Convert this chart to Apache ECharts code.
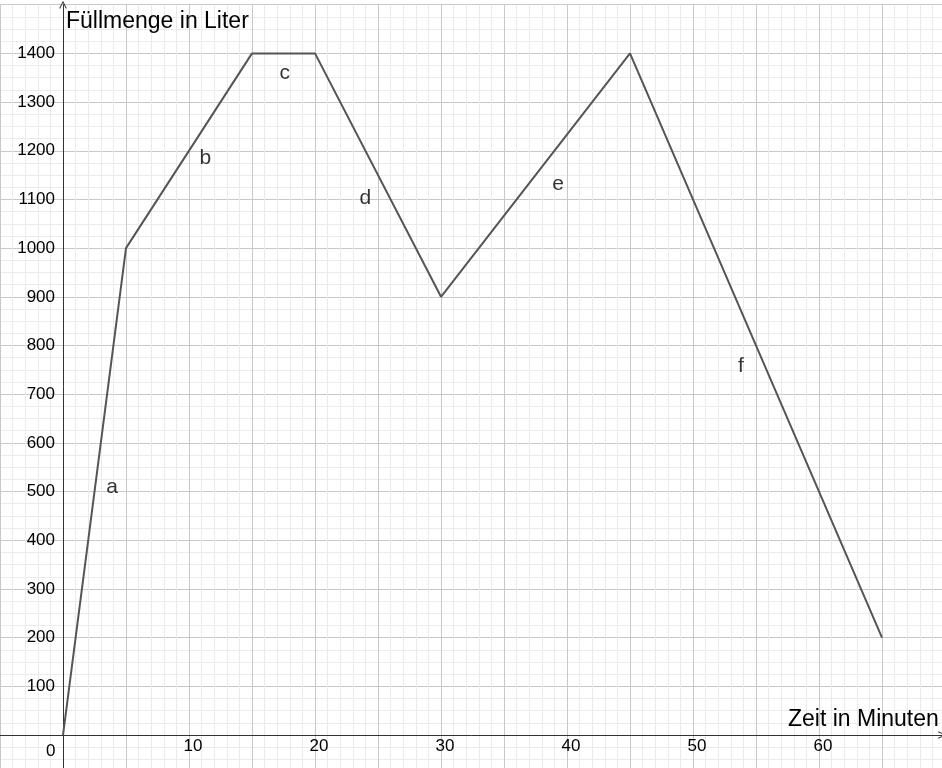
<!DOCTYPE html>
<html>
<head>
<meta charset="utf-8">
<script src="https://cdn.jsdelivr.net/npm/echarts@6/dist/echarts.min.js"></script>
<style>
  html, body { margin: 0; padding: 0; background: #fff; }
  #chart { width: 942px; height: 768px; }
</style>
</head>
<body>
<div id="chart"></div>
<script>
  // Füllmenge über die Zeit
  const timeMin = [0, 5, 15, 20, 30, 45, 65];
  const volume = [0, 1000, 1400, 1400, 900, 1400, 200];

  // Beschriftung der Abschnitte
  const segNames = ['a', 'b', 'c', 'd', 'e', 'f'];
  const segX = [3.9, 11.3, 17.6, 24.0, 39.3, 53.8];
  const segY = [509, 1185, 1360, 1103, 1132, 758];

  const font = "'Liberation Sans', Arial, sans-serif";
  const chevron = 'path://M0,10 L5,0 L10,10 L8.8,10.6 L5,2.6 L1.2,10.6 Z';

  const chart = echarts.init(document.getElementById('chart'));

  const option = {
    animation: false,
    grid: { left: 0, width: 945, top: 4.7, height: 779, containLabel: false, outerBoundsMode: 'none' },
    xAxis: {
      type: 'value',
      min: -5,
      max: 70,
      interval: 5,
      offset: -48.7,
      axisLine: {
        onZero: false,
        symbol: ['none', chevron],
        symbolSize: [10, 8],
        symbolOffset: [0, -3],
        lineStyle: { color: '#333', width: 1 }
      },
      axisTick: { show: false },
      axisLabel: {
        margin: 3,
        color: '#000',
        fontFamily: font,
        fontSize: 17,
        padding: [0, 0, 0, 8],
        formatter: v => (v > 0 && v % 10 === 0 && v < 70) ? String(v) : ''
      },
      splitLine: { lineStyle: { color: '#c8c8c8', width: 1 } },
      minorTick: { show: false, splitNumber: 5 },
      minorSplitLine: { show: true, lineStyle: { color: '#ebebeb', width: 1 } }
    },
    yAxis: {
      type: 'value',
      min: -100,
      max: 1500,
      interval: 100,
      offset: -63,
      axisLine: {
        onZero: false,
        symbol: ['none', chevron],
        symbolSize: [10, 8],
        lineStyle: { color: '#333', width: 1 }
      },
      axisTick: { show: false },
      axisLabel: {
        margin: 8,
        color: '#000',
        fontFamily: font,
        fontSize: 17,
        formatter: v => (v > 0 && v < 1500) ? String(v) : ''
      },
      splitLine: { lineStyle: { color: '#c8c8c8', width: 1 } },
      minorTick: { show: false, splitNumber: 4 },
      minorSplitLine: { show: true, lineStyle: { color: '#ebebeb', width: 1 } }
    },
    series: [
      {
        type: 'line',
        data: timeMin.map((t, i) => [t, volume[i]]),
        showSymbol: false,
        lineStyle: { color: '#555', width: 2 },
        z: 3
      },
      {
        type: 'scatter',
        symbolSize: 0,
        data: segNames.map((n, i) => ({ name: n, value: [segX[i], segY[i]] })),
        label: {
          show: true,
          position: 'inside',
          formatter: p => p.name,
          color: '#000',
          fontFamily: font,
          fontSize: 21
        },
        z: 4
      }
    ]
  };

  chart.setOption(option);

  const origin = chart.convertToPixel({ gridIndex: 0 }, [0, 0]);
  chart.setOption({
    graphic: [
      {
        type: 'text',
        left: origin[0] - 17, top: origin[1] + 8,
        style: { text: '0', font: '17px ' + font, fill: '#000' }
      },
      {
        type: 'text',
        left: 66, top: 10,
        style: { text: 'Füllmenge in Liter', font: '23px ' + font, fill: '#000' }
      },
      {
        type: 'text',
        left: 788, top: 708,
        style: { text: 'Zeit in Minuten', font: '23px ' + font, fill: '#000' }
      }
    ]
  });
</script>
</body>
</html>
